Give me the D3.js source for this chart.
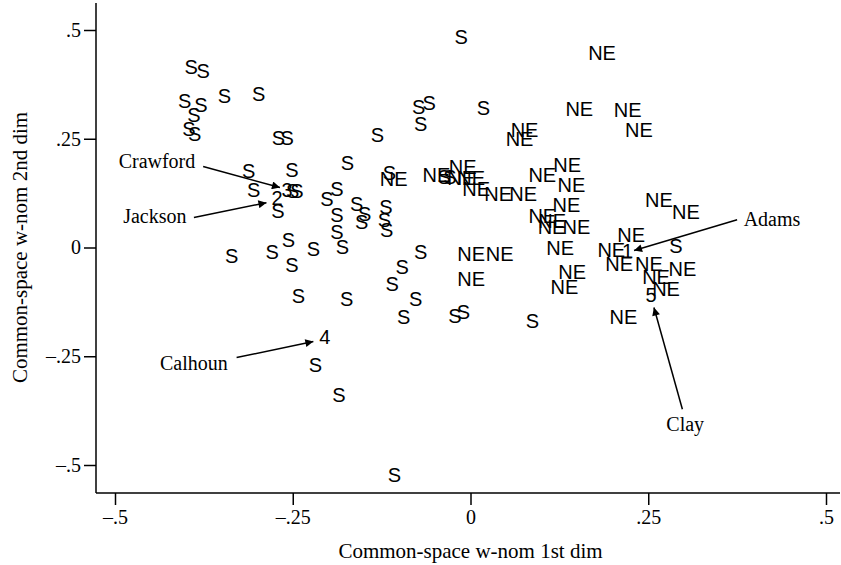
<!DOCTYPE html>
<html>
<head>
<meta charset="utf-8">
<script src="https://cdn.jsdelivr.net/npm/d3@7"></script>
<style>
  body { margin: 0; background: #fff; }
  svg { display: block; }
</style>
</head>
<body>
<div id="chart"></div>
<script>
const width = 841;
const height = 565;

// S (slave state) legislators, common-space w-nom coordinates
const sX = [-0.393, -0.376, -0.402, -0.379, -0.389, -0.396, -0.388, -0.346, -0.298, -0.270,
            -0.258, -0.312, -0.251, -0.305, -0.250, -0.244, -0.271, -0.336, -0.279, -0.256,
            -0.251, -0.221, -0.188, -0.188, -0.180, -0.242, -0.174, -0.218, -0.185, -0.202,
            -0.188, -0.173, -0.131, -0.013, -0.073, -0.058, -0.070,  0.018, -0.114, -0.037,
            -0.029, -0.160, -0.149, -0.153, -0.119, -0.121, -0.118, -0.070, -0.096, -0.110,
            -0.077, -0.094, -0.022, -0.010, -0.107,  0.087,  0.289];
const sY = [ 0.416,  0.407,  0.338,  0.329,  0.306,  0.274,  0.262,  0.349,  0.354,  0.253,
             0.253,  0.177,  0.179,  0.133,  0.131,  0.131,  0.085, -0.018, -0.011,  0.018,
            -0.039, -0.002,  0.076,  0.037,  0.002, -0.110, -0.117, -0.269, -0.338,  0.113,
             0.136,  0.195,  0.260,  0.485,  0.324,  0.333,  0.285,  0.322,  0.172,  0.163,
             0.163,  0.101,  0.078,  0.060,  0.094,  0.064,  0.041, -0.009, -0.044, -0.083,
            -0.117, -0.159, -0.156, -0.147, -0.522, -0.168,  0.005];

// NE (north-east) legislators
const neX = [ 0.185,  0.153,  0.221,  0.237,  0.076,  0.069, -0.108, -0.048, -0.011, -0.013,
              0.001,  0.008,  0.039,  0.074,  0.101,  0.136,  0.142,  0.135,  0.101,  0.115,
              0.114,  0.149,  0.126,  0.143,  0.132,  0.001,  0.041,  0.001,  0.265,  0.303,
              0.226,  0.198,  0.209,  0.251,  0.261,  0.298,  0.275,  0.215];
const neY = [ 0.448,  0.320,  0.317,  0.271,  0.271,  0.251,  0.159,  0.168,  0.186,  0.161,
              0.161,  0.136,  0.124,  0.124,  0.168,  0.189,  0.145,  0.099,  0.074,  0.062,
              0.048,  0.048,  0.000, -0.057, -0.090, -0.014, -0.014, -0.071,  0.110,  0.083,
              0.030, -0.005, -0.037, -0.037, -0.067, -0.048, -0.094, -0.159];

// 1824 candidates: marker number, point, label position and arrow start
const candNames = ['Adams', 'Jackson', 'Crawford', 'Calhoun', 'Clay'];
const candNums  = ['1', '2', '3', '4', '5'];
const candX     = [ 0.221, -0.272, -0.258, -0.205,  0.254];
const candY     = [-0.007,  0.115,  0.133, -0.205, -0.108];
const labelX    = [ 0.424, -0.444, -0.441, -0.389,  0.302];
const labelY    = [ 0.064,  0.071,  0.197, -0.267, -0.407];
const arrowX0   = [ 0.375, -0.389, -0.376, -0.329,  0.298];
const arrowY0   = [ 0.064,  0.069,  0.186, -0.253, -0.372];
const arrowX1   = [ 0.230, -0.287, -0.268, -0.221,  0.258];
const arrowY1   = [-0.007,  0.103,  0.138, -0.216, -0.138];

const tickVals = [-0.5, -0.25, 0, 0.25, 0.5];

const serif = '"Liberation Serif", "Times New Roman", serif';
const sans = '"Liberation Sans", Arial, Helvetica, sans-serif';

const axisLeftX = 96;
const axisBottomY = 493;

const x = d3.scaleLinear()
  .domain([-0.5, 0.5])
  .range([115, 826]);

const y = d3.scaleLinear()
  .domain([-0.5, 0.5])
  .range([465, 30]);

// stata style tick labels: .25, –.5, 0
const fmt = d => d === 0 ? '0' : (d < 0 ? '\u2013' : '') + String(Math.abs(d)).replace(/^0/, '');

const svg = d3.select('#chart').append('svg')
  .attr('width', width)
  .attr('height', height);

svg.append('defs').append('marker')
  .attr('id', 'arrow')
  .attr('viewBox', '0 0 10 10')
  .attr('refX', 10)
  .attr('refY', 5)
  .attr('markerWidth', 10)
  .attr('markerHeight', 8)
  .attr('markerUnits', 'userSpaceOnUse')
  .attr('orient', 'auto')
  .append('path')
  .attr('d', 'M0,0 L10,5 L0,10 Z')
  .attr('fill', '#000');

// axes
const yAxis = svg.append('g')
  .attr('transform', `translate(${axisLeftX},0)`)
  .call(d3.axisLeft(y).tickValues(tickVals).tickFormat(fmt).tickSize(12).tickPadding(3));

const xAxis = svg.append('g')
  .attr('transform', `translate(0,${axisBottomY})`)
  .call(d3.axisBottom(x).tickValues(tickVals).tickFormat(fmt).tickSize(12).tickPadding(5));

[yAxis, xAxis].forEach(g => {
  g.select('.domain').remove();
  g.selectAll('line').attr('stroke', '#000').attr('stroke-width', 1.5);
  g.selectAll('text')
    .attr('fill', '#000')
    .style('font-family', serif)
    .style('font-size', '20px');
});

svg.append('line')
  .attr('x1', axisLeftX).attr('x2', axisLeftX)
  .attr('y1', 3).attr('y2', axisBottomY)
  .attr('stroke', '#000').attr('stroke-width', 1.5);

svg.append('line')
  .attr('x1', axisLeftX).attr('x2', 840)
  .attr('y1', axisBottomY).attr('y2', axisBottomY)
  .attr('stroke', '#000').attr('stroke-width', 1.5);

// axis titles
svg.append('text')
  .attr('x', x(0))
  .attr('y', 558)
  .attr('text-anchor', 'middle')
  .style('font-family', serif)
  .style('font-size', '21px')
  .text('Common-space w-nom 1st dim');

svg.append('text')
  .attr('transform', `translate(27,${y(0)}) rotate(-90)`)
  .attr('text-anchor', 'middle')
  .style('font-family', serif)
  .style('font-size', '21px')
  .text('Common-space w-nom 2nd dim');

// marker labels
const pts = [];
sX.forEach((v, i) => pts.push({x: v, y: sY[i], lab: 'S'}));
neX.forEach((v, i) => pts.push({x: v, y: neY[i], lab: 'NE'}));
candX.forEach((v, i) => pts.push({x: v, y: candY[i], lab: candNums[i]}));

svg.append('g')
  .selectAll('text')
  .data(pts)
  .enter().append('text')
    .attr('x', d => x(d.x))
    .attr('y', d => y(d.y))
    .attr('dy', '0.36em')
    .attr('text-anchor', 'middle')
    .style('font-family', sans)
    .style('font-size', '20px')
    .text(d => d.lab);

// candidate annotations
const ann = svg.append('g');
candNames.forEach((name, i) => {
  ann.append('line')
    .attr('x1', x(arrowX0[i])).attr('y1', y(arrowY0[i]))
    .attr('x2', x(arrowX1[i])).attr('y2', y(arrowY1[i]))
    .attr('stroke', '#000')
    .attr('stroke-width', 1.5)
    .attr('marker-end', 'url(#arrow)');
  ann.append('text')
    .attr('x', x(labelX[i]))
    .attr('y', y(labelY[i]))
    .attr('dy', '0.33em')
    .attr('text-anchor', 'middle')
    .style('font-family', serif)
    .style('font-size', '20px')
    .text(name);
});
</script>
</body>
</html>
